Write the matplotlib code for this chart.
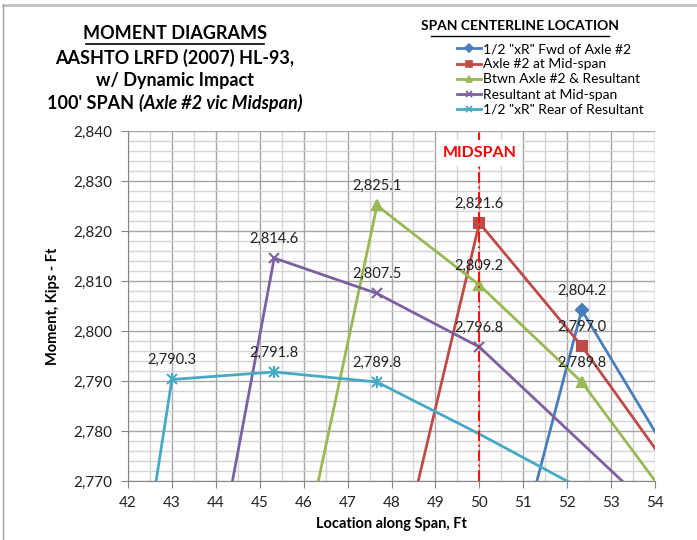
import numpy as np
import matplotlib.pyplot as plt
from matplotlib.lines import Line2D
from matplotlib.ticker import MultipleLocator, FuncFormatter

plt.rcParams['font.family'] = ['Lato', 'DejaVu Sans']

# span centerline location cases (x in ft, moment in kip-ft)
blue_x = [50.0, 52.33, 54.67]
blue_y = [2726.1, 2804.2, 2770.1]
red_x = [47.67, 50.0, 52.33, 54.67]
red_y = [2735.2, 2821.6, 2797.0, 2768.3]
green_x = [45.33, 47.67, 50.0, 52.33, 54.67]
green_y = [2728.6, 2825.1, 2809.2, 2789.8, 2762.1]
purple_x = [43.0, 45.33, 47.67, 50.0, 52.33, 54.67]
purple_y = [2705.3, 2814.6, 2807.5, 2796.8, 2777.6, 2758.3]
cyan_x = [40.67, 43.0, 45.33, 47.67, 50.0, 52.33]
cyan_y = [2658.7, 2790.3, 2791.8, 2789.8, 2779.4, 2768.4]

labels = ['1/2 "xR" Fwd of Axle #2', 'Axle #2 at Mid-span',
          'Btwn Axle #2 & Resultant', 'Resultant at Mid-span',
          '1/2 "xR" Rear of Resultant']
colors = ['#4a7ebb', '#be4b48', '#98b954', '#7d60a0', '#46aac5']
markers = ['D', 's', '^', 'x', 'x']
msizes = [6, 7, 7, 7, 7]
# which points get a marker and a data label
labelled = [[1], [1, 2], [1, 2, 3], [1, 2, 3], [1, 2, 3]]

series = [(blue_x, blue_y), (red_x, red_y), (green_x, green_y),
          (purple_x, purple_y), (cyan_x, cyan_y)]

fig = plt.figure(figsize=(6.97, 5.40), dpi=100)
ax = fig.add_axes([0.1836, 0.1093, 0.7562, 0.6481])

for (xs, ys), c, m, ms, idx in zip(series, colors, markers, msizes, labelled):
    ax.plot(xs, ys, color=c, lw=2, marker=m, ms=ms, markevery=idx,
            mew=1.5, zorder=3, clip_on=True)
    if c == colors[4]:
        ax.plot([xs[i] for i in idx], [ys[i] for i in idx], ls='none',
                marker='|', ms=8, mew=1.5, color=c, zorder=3)
    for i in idx:
        ax.annotate(f'{ys[i]:,.1f}', (xs[i], ys[i]), xytext=(0, 9),
                    textcoords='offset points', ha='center', va='bottom',
                    fontsize=10.5, color='#222222', zorder=4)

ax.axvline(50, color='#ff0000', lw=1.3, ls=(0, (6, 2, 1, 2)), zorder=4)
ax.text(50, 2835.6, 'MIDSPAN', color='#ff0000', fontweight='bold',
        fontsize=11.5, ha='center', va='center', zorder=5,
        bbox=dict(facecolor='white', edgecolor='none', pad=4))

ax.set_xlim(42, 54)
ax.set_ylim(2770, 2840)
ax.xaxis.set_major_locator(MultipleLocator(1))
ax.xaxis.set_minor_locator(MultipleLocator(0.5))
ax.yaxis.set_major_locator(MultipleLocator(10))
ax.yaxis.set_minor_locator(MultipleLocator(2))
ax.yaxis.set_major_formatter(FuncFormatter(lambda v, p: f'{v:,.0f}'))
ax.grid(which='major', color='#a6a6a6', lw=1)
ax.grid(which='minor', color='#d4d4d4', lw=1)
ax.set_axisbelow(True)
for s in ['top', 'right']:
    ax.spines[s].set_visible(False)
for s in ['left', 'bottom']:
    ax.spines[s].set_color('#868686')
ax.tick_params(which='major', length=5, color='#868686', labelsize=11,
               labelcolor='#222222', pad=6)
ax.tick_params(which='minor', length=0)
ax.set_xlabel('Location along Span, Ft', fontweight='bold', fontsize=10.5,
              labelpad=5)
ax.set_ylabel('Moment, Kips - Ft', fontweight='bold', fontsize=10.5,
              labelpad=10)

# title block
fig.text(0.251, 0.938, 'MOMENT DIAGRAMS', ha='center', va='center',
         fontsize=13, fontweight='bold')
fig.add_artist(Line2D([0.123, 0.379], [0.918, 0.918], color='black', lw=1.2))
fig.text(0.251, 0.893, 'AASHTO LRFD (2007) HL-93,', ha='center',
         va='center', fontsize=13, fontweight='bold')
fig.text(0.251, 0.851, 'w/ Dynamic Impact', ha='center', va='center',
         fontsize=13, fontweight='bold')
t1 = fig.text(0, 0.809, "100' SPAN ", ha='left', va='center',
              fontsize=13, fontweight='bold')
t2 = fig.text(0, 0.809, '(Axle #2 vic Midspan)', ha='left',
              va='center', fontsize=13, fontweight='bold', style='italic')
fig.canvas.draw()
w1 = t1.get_window_extent().width / fig.bbox.width
w2 = t2.get_window_extent().width / fig.bbox.width
x0 = 0.251 - (w1 + w2) / 2
t1.set_x(x0)
t2.set_x(x0 + w1)

# legend
fig.text(0.746, 0.951, 'SPAN CENTERLINE LOCATION', ha='center',
         va='center', fontsize=10, fontweight='bold')
fig.add_artist(Line2D([0.618, 0.874], [0.934, 0.934], color='black', lw=1))
handles = []
for c, m, ms in zip(colors, markers, msizes):
    handles.append(Line2D([], [], color=c, lw=2, marker=m, ms=ms - 2,
                          mew=1.2))
fig.legend(handles, labels, loc='upper left', bbox_to_anchor=(0.648, 0.93),
           frameon=False, fontsize=10, handlelength=1.7, handletextpad=0.15,
           labelspacing=0.22, borderaxespad=0)

# chart area border (top and left edges)
fig.add_artist(Line2D([0.004, 1.0], [0.991, 0.991], color='#c0c0c0', lw=2))
fig.add_artist(Line2D([0.004, 0.004], [0.0, 0.991], color='#a0a0a0', lw=1))

fig.savefig('out.png', dpi=100)
